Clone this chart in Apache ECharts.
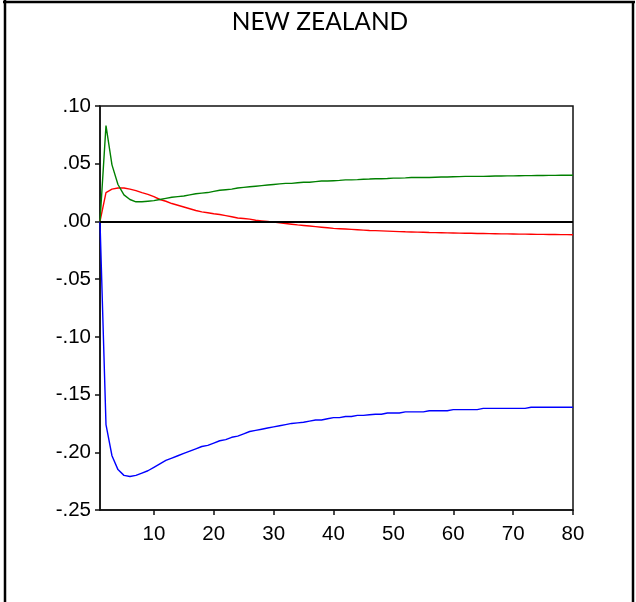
<!DOCTYPE html>
<html>
<head>
<meta charset="utf-8">
<title>NEW ZEALAND</title>
<script src="https://cdn.jsdelivr.net/npm/echarts@6/dist/echarts.min.js"></script>
<style>
  html, body { margin: 0; padding: 0; background: #fff; }
  #chart { width: 636px; height: 602px; }
</style>
</head>
<body>
<div id="chart"></div>
<script>
// Impulse responses over 80 periods
const titleText = 'NEW ZEALAND';
const xTicks = [10, 20, 30, 40, 50, 60, 70, 80];

const blueSeries = [
  0, -0.176, -0.203, -0.215, -0.220, -0.221, -0.220, -0.218, -0.216, -0.213,
  -0.210, -0.207, -0.205, -0.203, -0.201, -0.199, -0.197, -0.195, -0.194, -0.192,
  -0.190, -0.189, -0.187, -0.186, -0.184, -0.182, -0.181, -0.180, -0.179, -0.178,
  -0.177, -0.176, -0.175, -0.1745, -0.174, -0.173, -0.172, -0.172, -0.171, -0.170,
  -0.170, -0.169, -0.169, -0.168, -0.168, -0.1675, -0.167, -0.167, -0.166, -0.166,
  -0.166, -0.165, -0.165, -0.165, -0.165, -0.164, -0.164, -0.164, -0.164, -0.163,
  -0.163, -0.163, -0.163, -0.163, -0.162, -0.162, -0.162, -0.162, -0.162, -0.162,
  -0.162, -0.162, -0.161, -0.161, -0.161, -0.161, -0.161, -0.161, -0.161, -0.161
];

const redSeries = [
  0, 0.025, 0.028, 0.029, 0.029, 0.028, 0.0267, 0.025, 0.0235, 0.0215,
  0.019, 0.0175, 0.0155, 0.014, 0.0125, 0.011, 0.0095, 0.0083, 0.0075, 0.0067,
  0.006, 0.005, 0.004, 0.003, 0.0025, 0.002, 0.001, 0.0005, 0.0, -0.0006,
  -0.0012, -0.0018, -0.0024, -0.003, -0.0035, -0.004, -0.0045, -0.005, -0.0055, -0.006,
  -0.0063, -0.0066, -0.0069, -0.0072, -0.0075, -0.0078, -0.008, -0.0082, -0.0084, -0.0086,
  -0.0088, -0.009, -0.0091, -0.0093, -0.0094, -0.0096, -0.0097, -0.0098, -0.0099, -0.0100,
  -0.0101, -0.0102, -0.0103, -0.0104, -0.0105, -0.0106, -0.0107, -0.0108, -0.0108, -0.0109,
  -0.011, -0.011, -0.0111, -0.0112, -0.0112, -0.0113, -0.0113, -0.0114, -0.0114, -0.0115
];

const greenSeries = [
  0, 0.083, 0.049, 0.032, 0.023, 0.019, 0.017, 0.017, 0.0175, 0.018,
  0.019, 0.020, 0.021, 0.0215, 0.022, 0.023, 0.024, 0.0245, 0.025, 0.026,
  0.027, 0.0275, 0.028, 0.029, 0.0295, 0.030, 0.0305, 0.031, 0.0315, 0.032,
  0.0325, 0.033, 0.033, 0.0335, 0.034, 0.034, 0.0345, 0.035, 0.035, 0.0353,
  0.0356, 0.036, 0.036, 0.0362, 0.0365, 0.0367, 0.037, 0.037, 0.0372, 0.0375,
  0.0375, 0.0377, 0.038, 0.038, 0.038, 0.038, 0.0383, 0.0385, 0.0385, 0.0387,
  0.0388, 0.039, 0.039, 0.039, 0.039, 0.0392, 0.0393, 0.0394, 0.0395, 0.0395,
  0.0396, 0.0397, 0.0397, 0.0398, 0.0398, 0.0399, 0.0399, 0.040, 0.040, 0.040
];

// pair each response value with its period number (1-based)
function withPeriods(values) {
  return values.map(function (v, i) { return [i + 1, v]; });
}

function fmtY(v) {
  return v.toFixed(2).replace('0.', '.');
}

const labelFont = { fontFamily: 'Liberation Sans, Arial, sans-serif', fontSize: 20.5, color: '#000' };

const chart = echarts.init(document.getElementById('chart'), null, { renderer: 'canvas' });

chart.setOption({
  animation: false,
  backgroundColor: '#fff',
  title: {
    text: titleText,
    left: 315,
    top: 5,
    textAlign: 'center',
    textStyle: { fontFamily: 'Lato, Carlito, sans-serif', fontWeight: 'normal', fontSize: 24.5, color: '#000' }
  },
  graphic: [
    { type: 'line', shape: { x1: 3, y1: 2, x2: 635, y2: 2 }, style: { stroke: '#000', lineWidth: 2.5 } },
    { type: 'line', shape: { x1: 5, y1: 0, x2: 5, y2: 602 }, style: { stroke: '#000', lineWidth: 2.5 } },
    { type: 'line', shape: { x1: 633, y1: 2, x2: 633, y2: 602 }, style: { stroke: '#000', lineWidth: 2.5 } }
  ],
  grid: {
    left: 100, top: 106, right: 63, bottom: 92,
    show: true, borderColor: '#111', borderWidth: 1.5, backgroundColor: 'transparent'
  },
  xAxis: {
    type: 'value',
    min: 1,
    max: 80,
    axisLine: { show: true, onZero: false, lineStyle: { color: '#111', width: 1.5 } },
    axisTick: { show: true, inside: false, length: 5, customValues: xTicks, lineStyle: { color: '#111', width: 1.5 } },
    axisLabel: Object.assign({ margin: 14, customValues: xTicks }, labelFont),
    splitLine: { show: false }
  },
  yAxis: {
    type: 'value',
    min: -0.25,
    max: 0.10,
    interval: 0.05,
    axisLine: { show: true, lineStyle: { color: '#111', width: 1.5 } },
    axisTick: { show: true, inside: false, length: 5, lineStyle: { color: '#111', width: 1.5 } },
    axisLabel: Object.assign({ margin: 9, formatter: fmtY }, labelFont),
    splitLine: { show: false }
  },
  series: [
    {
      type: 'line', data: withPeriods(blueSeries), symbol: 'none',
      lineStyle: { color: '#0000ff', width: 1.4 },
      markLine: {
        silent: true, symbol: 'none', label: { show: false },
        lineStyle: { color: '#000', width: 2, type: 'solid' },
        data: [{ yAxis: 0 }]
      }
    },
    { type: 'line', data: withPeriods(redSeries), symbol: 'none', lineStyle: { color: '#ff0000', width: 1.4 } },
    { type: 'line', data: withPeriods(greenSeries), symbol: 'none', lineStyle: { color: '#008000', width: 1.4 } }
  ]
});
</script>
</body>
</html>
